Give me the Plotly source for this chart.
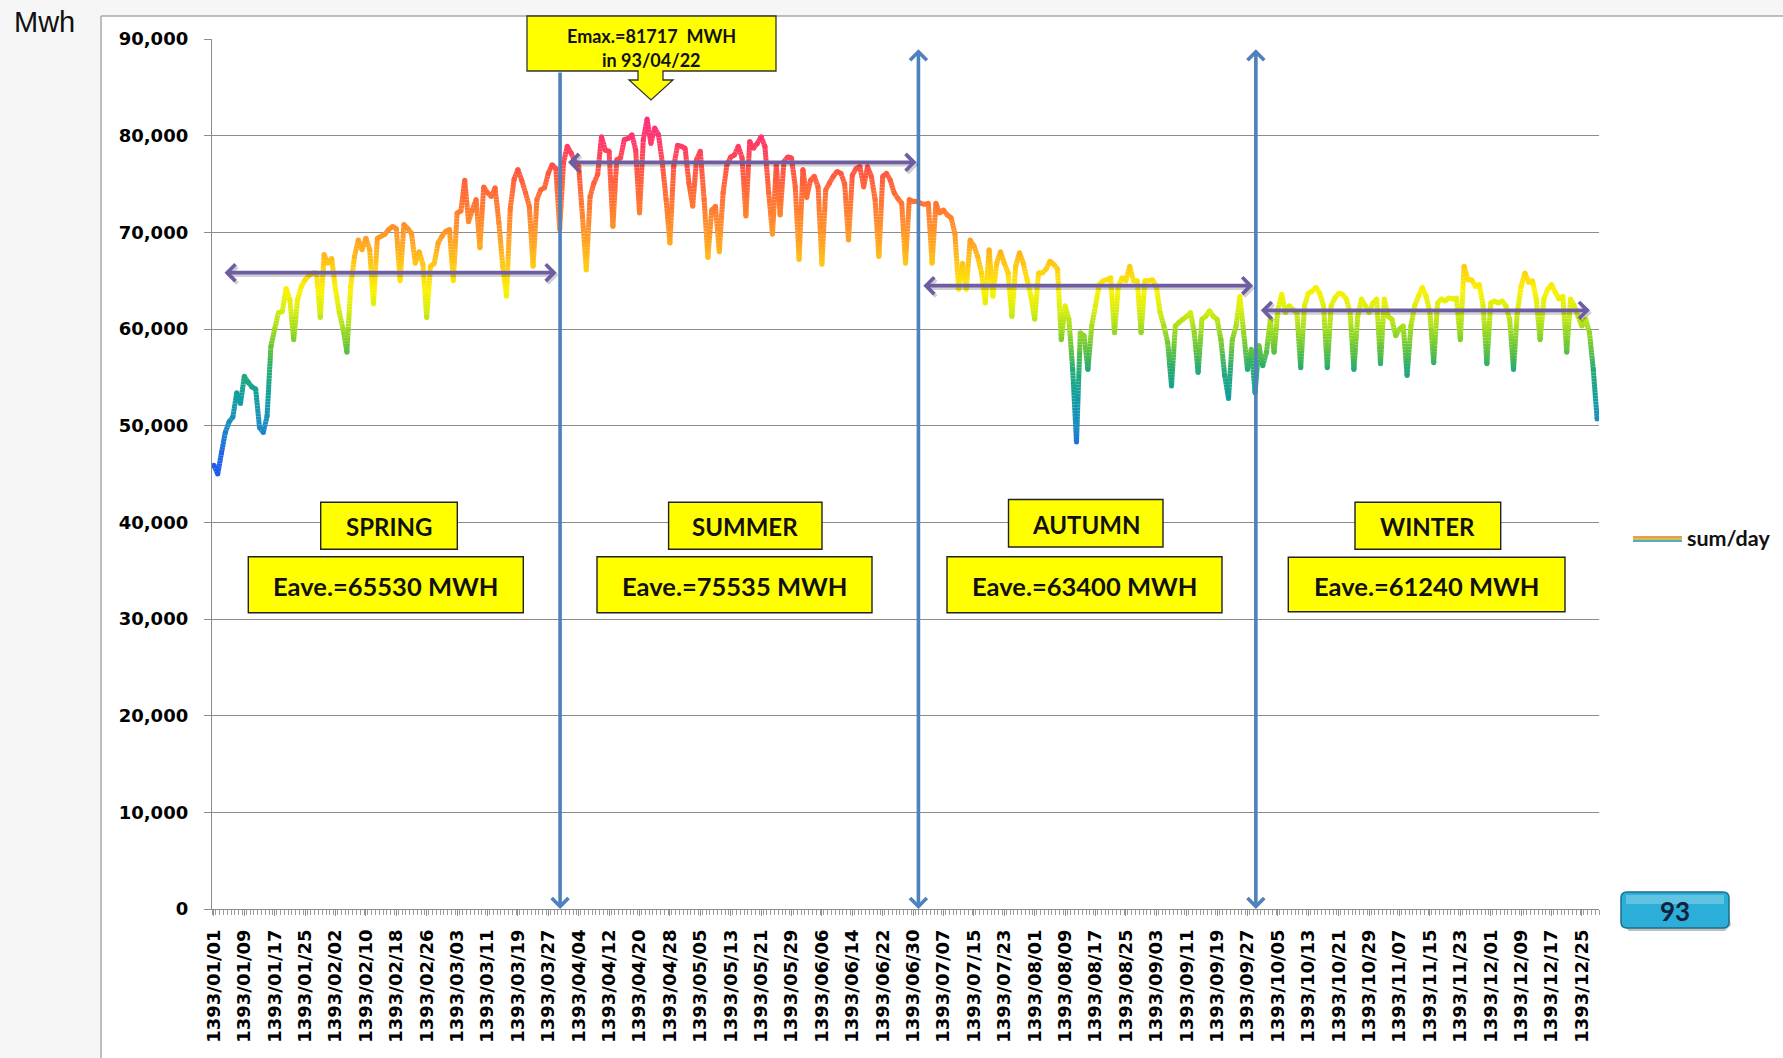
import numpy as np
import plotly.graph_objects as go

# ---------------- data ----------------
MONTH_DAYS = [31, 31, 31, 31, 31, 31, 30, 30, 30, 30, 30, 29]
dates = [f"1393/{m:02d}/{d:02d}" for m, n in enumerate(MONTH_DAYS, start=1) for d in range(1, n + 1)]

spring_energy = [
    45900, 45000, 47200, 49300, 50400, 50900, 53400, 52300, 55100, 54500,
    54000, 53800, 49800, 49300, 51000, 58200, 60000, 61700, 61800, 64200,
    63000, 58900, 63000, 64400, 65100, 65500, 65800, 65800, 61200, 67700,
    66800, 67300, 64100, 61700, 60000, 57600, 64400, 67500, 69200, 68200,
    69400, 68200, 62600, 69400, 69600, 69800, 70300, 70600, 70400, 65000,
    70800, 70400, 69900, 66800, 68000, 66700, 61200, 66500, 66800, 68900,
    69600, 70100, 70300, 65000, 72000, 72200, 75400, 71100, 72300, 73400,
    68400, 74700, 74100, 73700, 74600, 71000, 66500, 63400, 72500, 75500,
    76500, 75400, 74100, 72700, 66500, 73400, 74400, 74600, 76100, 77000,
    76600, 70300, 77200,
]
summer_energy = [
    78900, 78200, 77300, 76800, 71600, 66100, 73700, 75100, 76000, 79900,
    78500, 78400, 70600, 77500, 77700, 79600, 79700, 80100, 78500, 72000,
    79600, 81717, 79200, 80800, 80100, 77200, 73400, 68900, 76800, 79000,
    78900, 78700, 75100, 72700, 77500, 78400, 73400, 67400, 72300, 72700,
    68000, 74100, 77000, 77800, 78000, 78900, 77700, 71700, 79400, 78700,
    79200, 79900, 78900, 74100, 69800, 77000, 71800, 77300, 77800, 77700,
    74700, 67200, 76500, 73600, 75400, 75800, 74700, 66700, 74400, 75100,
    75800, 76300, 76100, 75000, 69200, 75900, 76600, 76800, 74700, 76800,
    75800, 73400, 67500, 75800, 76100, 75400, 74100, 73500, 73000, 66800,
    73400, 73200, 73200,
]
autumn_energy = [
    73000, 72900, 73000, 66800, 73000, 72000, 72300, 71800, 71500, 69900,
    64100, 66800, 64100, 69200, 68600, 67500, 65800, 62700, 68200, 63400,
    66800, 68000, 66800, 65800, 61300, 66500, 67900, 66800, 65100, 63400,
    61000, 65800, 65800, 66200, 67000, 66700, 66200, 58900, 62400, 61000,
    55800, 48300, 59600, 59300, 55800, 60300, 62400, 64600, 65000, 65100,
    65300, 59600, 64400, 65300, 65000, 66500, 65000, 65000, 59600, 65000,
    65000, 65100, 64400, 61700, 60300, 58600, 54100, 60300, 60700, 61000,
    61300, 61700, 59600, 55500, 61000, 61300, 61900, 61300, 61000, 58900,
    55200, 52800, 58900, 60300, 63400, 59600, 55800, 57900, 53400, 58300,
]
winter_energy = [
    56200, 57600, 61000, 57600, 62000, 63600, 61700, 62400, 62000, 61700,
    56000, 62400, 63700, 63900, 64300, 63700, 62400, 56000, 62400, 63200,
    63700, 63600, 63100, 61700, 55800, 61300, 63100, 62400, 61700, 62700,
    63100, 56400, 63100, 61300, 61000, 59300, 60000, 60300, 55200, 60300,
    62400, 63400, 64300, 63400, 61700, 56500, 62700, 63100, 62900, 63200,
    63100, 63200, 58900, 66500, 65100, 65100, 64400, 64600, 62400, 56400,
    62700, 62900, 62700, 62900, 62400, 61000, 55800, 61700, 64400, 65800,
    64800, 65000, 63100, 58900, 63100, 64100, 64600, 63800, 63100, 63400,
    57600, 63100, 62400, 61300, 60300, 61000, 59600, 55800, 50700,
]
energy = spring_energy + summer_energy + autumn_energy + winter_energy

tick_labels = dates[::8]
season_names = ["SPRING", "SUMMER", "AUTUMN", "WINTER"]
season_avg = [65530, 75535, 63400, 61240]
emax_value = 81717
emax_date = "93/04/22"
year_label = "93"
series_name = "sum/day"
y_title = "Mwh"

# ---------------- geometry helpers (pixel layout) ----------------
W, H = 1783, 1058
PL, PR, PT, PB = 212, 1599, 39, 909


def X(p):
    return (p - PL) / (PR - PL)


def Y(p):
    return (PB - p) / (PB - PT)


# ---------------- value -> colour (vertical gradient) ----------------
STOPS = [
    (44000, (32, 80, 250)), (48000, (30, 110, 220)), (50000, (28, 140, 195)),
    (53000, (16, 158, 160)), (56000, (40, 172, 112)), (58000, (100, 196, 60)),
    (60000, (160, 220, 30)), (62000, (215, 238, 14)), (64000, (250, 242, 0)),
    (66000, (255, 210, 14)), (68000, (255, 178, 28)), (70000, (255, 150, 40)),
    (73000, (255, 117, 48)), (76000, (255, 90, 62)), (78000, (255, 68, 88)),
    (80000, (255, 52, 112)), (83000, (255, 44, 128)),
]


def col(v):
    if v <= STOPS[0][0]:
        c = STOPS[0][1]
    elif v >= STOPS[-1][0]:
        c = STOPS[-1][1]
    else:
        for (v0, c0), (v1, c1) in zip(STOPS[:-1], STOPS[1:]):
            if v0 <= v <= v1:
                t = (v - v0) / (v1 - v0)
                c = tuple(c0[k] + (c1[k] - c0[k]) * t for k in range(3))
                break
    return "rgb(%d,%d,%d)" % tuple(int(round(a)) for a in c)


fig = go.Figure()

LW = 5.0
# gradient line: each segment split into small pieces coloured by value
idx = list(range(len(energy)))
groups = {}
STEP = 250
for i in range(len(energy) - 1):
    y0, y1 = energy[i], energy[i + 1]
    n = max(1, int(np.ceil(abs(y1 - y0) / 300)))
    for k in range(n):
        t0, t1 = k / n, (k + 1) / n
        ya, yb = y0 + (y1 - y0) * t0, y0 + (y1 - y0) * t1
        key = int(round((ya + yb) / 2 / STEP))
        g = groups.setdefault(key, ([], []))
        g[0].extend([idx[i] + t0, idx[i] + t1, None])
        g[1].extend([ya, yb, None])

for key in sorted(groups):
    xs, ys = groups[key]
    fig.add_trace(go.Scatter(x=xs, y=ys, mode="lines", line=dict(color=col(key * STEP), width=LW),
                             hoverinfo="skip", showlegend=False))
fig.add_trace(go.Scatter(x=idx, y=energy, mode="markers", name=series_name,
                         marker=dict(color=[col(v) for v in energy], size=LW, line=dict(width=0)),
                         showlegend=False, hoverinfo="skip"))

shapes = []
annotations = []

# background / frame
shapes.append(dict(type="rect", xref="paper", yref="paper", x0=X(101), x1=X(W + 5), y0=Y(16), y1=Y(H + 5),
                   fillcolor="white", line=dict(width=0), layer="below"))
shapes.append(dict(type="line", xref="paper", yref="paper", x0=X(101), x1=X(101), y0=Y(16), y1=Y(H + 5),
                   line=dict(color="#A8A8A8", width=1.5), layer="below"))
shapes.append(dict(type="line", xref="paper", yref="paper", x0=X(101), x1=X(W + 5), y0=Y(16), y1=Y(16),
                   line=dict(color="#A8A8A8", width=1.5), layer="below"))

# blue vertical season separators (double arrows)
BLUE = "#4F81BD"
sep_days = [91.1, 185.4, 274.2]
for j, d in enumerate(sep_days):
    top = 86700 if j == 0 else 89100
    annotations.append(dict(x=d, y=0, ax=d, ay=top, xref="x", yref="y", axref="x", ayref="y",
                            text="", showarrow=True, arrowhead=4, arrowsize=0.9, arrowwidth=3.6,
                            arrowcolor=BLUE, arrowside="end" if j == 0 else "end+start", standoff=0,
                            startstandoff=0))

# purple average arrows
PURPLE = "#6F5DA3"
avg_arrows = [(2.4, 90.2, 65825), (92.8, 184.9, 77244), (186.3, 273.5, 64480), (275.1, 362.1, 61930)]
for (a, b, yv) in avg_arrows:
    annotations.append(dict(x=b + 0.5, y=yv - 250, ax=a + 0.5, ay=yv - 250, xref="x", yref="y", axref="x",
                            ayref="y", text="", showarrow=True, arrowhead=4, arrowsize=0.85, arrowwidth=3.8,
                            arrowcolor="rgba(0,0,0,0.18)", arrowside="end+start"))
    annotations.append(dict(x=b, y=yv, ax=a, ay=yv, xref="x", yref="y", axref="x", ayref="y",
                            text="", showarrow=True, arrowhead=4, arrowsize=0.85, arrowwidth=3.8,
                            arrowcolor=PURPLE, arrowside="end+start"))

# season boxes
YELLOW = "#FFFF00"
BOXFONT = "Lato"
name_boxes = [(320.7, 457.3, 502.3, 549.3), (668.6, 822.0, 502.3, 549.3),
              (1008.5, 1163.0, 499.5, 547.0), (1355.0, 1500.7, 502.3, 549.3)]
avg_boxes = [(248.3, 523.3, 556.7, 612.7), (597.0, 872.0, 556.7, 612.7),
             (947.0, 1222.0, 556.7, 612.7), (1288.3, 1565.0, 557.3, 611.7)]
for name, avg, nb, ab in zip(season_names, season_avg, name_boxes, avg_boxes):
    for (x0, x1, y0, y1), txt, fs in ((nb, name, 24), (ab, f"Eave.={avg} MWH", 25.5)):
        shapes.append(dict(type="rect", xref="paper", yref="paper", x0=X(x0), x1=X(x1), y0=Y(y1), y1=Y(y0),
                           fillcolor=YELLOW, line=dict(color="#222222", width=1.4), layer="above"))
        annotations.append(dict(x=X((x0 + x1) / 2), y=Y((y0 + y1) / 2 + 1), xref="paper", yref="paper",
                                text=txt, showarrow=False, xanchor="center", yanchor="middle",
                                font=dict(family=BOXFONT, size=fs, color="#111111", weight="bold")))

# Emax callout (box with down-arrow)
cp = [(527, 16), (776, 16), (776, 71), (663, 71), (663, 80), (673, 80), (651, 100), (629, 80), (638, 80),
      (638, 71), (527, 71)]
path = "M " + " L ".join(f"{X(a):.5f},{Y(b):.5f}" for a, b in cp) + " Z"
shapes.append(dict(type="path", xref="paper", yref="paper", path=path, fillcolor=YELLOW,
                   line=dict(color="#333333", width=1.3), layer="above"))
annotations.append(dict(x=X(651), y=Y(36), xref="paper", yref="paper", text=f"Emax.={emax_value}  MWH",
                        showarrow=False, xanchor="center", yanchor="middle",
                        font=dict(family=BOXFONT, size=18, color="#111111", weight="bold")))
annotations.append(dict(x=X(651), y=Y(60), xref="paper", yref="paper", text=f"in {emax_date}",
                        showarrow=False, xanchor="center", yanchor="middle",
                        font=dict(family=BOXFONT, size=18, color="#111111", weight="bold")))

# y title
annotations.append(dict(x=X(12), y=Y(22), xref="paper", yref="paper", text=y_title, showarrow=False,
                        xanchor="left", yanchor="middle",
                        font=dict(family="Liberation Sans", size=29, color="#111111")))

# legend (manual)
for off, c in ((-2, "rgb(240,150,90)"), (0, "rgb(200,200,70)"), (2, "rgb(90,170,190)")):
    shapes.append(dict(type="line", xref="paper", yref="paper", x0=X(1633), x1=X(1682), y0=Y(539 + off),
                       y1=Y(539 + off), line=dict(color=c, width=2), layer="above"))
annotations.append(dict(x=X(1685), y=Y(538), xref="paper", yref="paper", text=series_name, showarrow=False,
                        xanchor="left", yanchor="middle",
                        font=dict(family=BOXFONT, size=21.5, color="#111111", weight="bold")))

# "93" button
bx0, bx1, by0, by1, r = 1621, 1729, 892, 928, 6
bpath = (f"M {X(bx0 + r)},{Y(by0)} L {X(bx1 - r)},{Y(by0)} Q {X(bx1)},{Y(by0)} {X(bx1)},{Y(by0 + r)} "
         f"L {X(bx1)},{Y(by1 - r)} Q {X(bx1)},{Y(by1)} {X(bx1 - r)},{Y(by1)} L {X(bx0 + r)},{Y(by1)} "
         f"Q {X(bx0)},{Y(by1)} {X(bx0)},{Y(by1 - r)} L {X(bx0)},{Y(by0 + r)} Q {X(bx0)},{Y(by0)} {X(bx0 + r)},{Y(by0)} Z")
shadow = (f"M {X(bx0 + r + 2)},{Y(by0 + 3)} L {X(bx1 - r + 2)},{Y(by0 + 3)} L {X(bx1 + 2)},{Y(by1 + 3 - r)} "
          f"L {X(bx1 - r + 2)},{Y(by1 + 3)} L {X(bx0 + r + 2)},{Y(by1 + 3)} L {X(bx0 + 2)},{Y(by1 + 3 - r)} Z")
shapes.append(dict(type="path", xref="paper", yref="paper", path=shadow, fillcolor="rgba(0,0,0,0.25)",
                   line=dict(width=0), layer="above"))
shapes.append(dict(type="path", xref="paper", yref="paper", path=bpath, fillcolor="#2BAFD8",
                   line=dict(color="#1A6F90", width=1.5), layer="above"))
shapes.append(dict(type="rect", xref="paper", yref="paper", x0=X(bx0 + 5), x1=X(bx1 - 5), y0=Y(by0 + 12),
                   y1=Y(by0 + 3), fillcolor="rgba(255,255,255,0.25)", line=dict(width=0), layer="above"))
annotations.append(dict(x=X((bx0 + bx1) / 2), y=Y((by0 + by1) / 2 + 1), xref="paper", yref="paper",
                        text=year_label, showarrow=False, xanchor="center", yanchor="middle",
                        font=dict(family=BOXFONT, size=26, color="#14213D", weight="bold")))

TICKFONT = dict(family="DejaVu Sans", size=18, color="#000000", weight="bold")
fig.update_layout(
    width=W, height=H, autosize=False,
    margin=dict(l=PL, r=W - PR, t=PT, b=H - PB, pad=0),
    paper_bgcolor="#F6F6F6", plot_bgcolor="rgba(0,0,0,0)",
    showlegend=False, hovermode=False,
    shapes=shapes, annotations=annotations,
    xaxis=dict(range=[-0.5, len(energy) - 0.5], tickmode="array", tickvals=idx[::8], ticktext=tick_labels,
               tickangle=-90, tickfont=TICKFONT, ticks="outside", ticklen=6, tickcolor="#8C8C8C",
               showline=True, linecolor="#8C8C8C", linewidth=1.2, showgrid=False, zeroline=False,
               minor=dict(tickmode="linear", tick0=-0.5, dtick=1, ticks="outside", ticklen=5,
                          tickcolor="#9A9A9A", showgrid=False),
               ticklabelstandoff=6),
    yaxis=dict(range=[0, 90000], tickmode="linear", tick0=0, dtick=10000, tickformat=",",
               tickfont=dict(family="DejaVu Sans", size=18, color="#000000", weight="bold"),
               ticks="outside", ticklen=7, tickcolor="#8C8C8C", showline=True, linecolor="#8C8C8C",
               linewidth=1.2, showgrid=True, gridcolor="#8C8C8C", gridwidth=1, zeroline=False,
               ticklabelstandoff=12),
)

fig.write_html("out.html", config={"displayModeBar": False, "staticPlot": True},
               post_script="document.body.style.margin='0';")
